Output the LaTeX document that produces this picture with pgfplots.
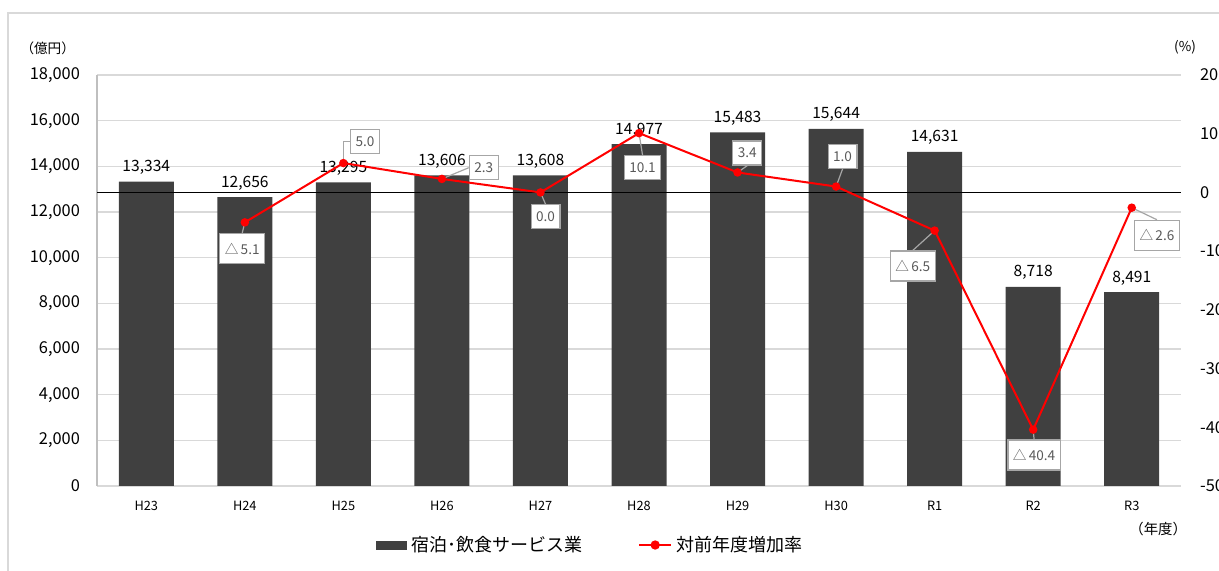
\documentclass[border=0pt]{standalone}
\usepackage{pgfplots}
\pgfplotsset{compat=1.18}
\usepackage{fontspec}
\setmainfont{Noto Sans CJK JP}
\setsansfont{Noto Sans CJK JP}

\definecolor{barc}{HTML}{404040}
\definecolor{gridc}{HTML}{D9D9D9}
\definecolor{spinec}{HTML}{BFBFBF}
\definecolor{boxc}{HTML}{A6A6A6}
\definecolor{boxtext}{HTML}{595959}
\definecolor{linec}{HTML}{FF0000}

\tikzset{
  cbox/.style={draw=boxc, fill=white, text=boxtext, line width=0.6pt,
    font=\fontsize{6.8}{8}\selectfont, inner xsep=2.5pt, minimum height=12pt},
  cboxn/.style={cbox, minimum height=15pt},
  lead/.style={draw=boxc, line width=0.6pt},
}

\begin{document}
\begin{tikzpicture}
\useasboundingbox (0,0) rectangle (609.5pt,285.5pt);
\clip (0,0) rectangle (609.5pt,285.5pt);
\draw[gridc, line width=0.6pt] (4pt,-5pt) rectangle (620pt,279pt);

% bars, left axis
\begin{axis}[
    at={(48.5pt,42.5pt)}, anchor=south west,
    width=542pt, height=205.5pt, scale only axis,
    xmin=-0.5, xmax=10.5,
    ymin=0, ymax=18000,
    ybar, bar width=27.5pt,
    xtick={0,1,2,3,4,5,6,7,8,9,10},
    xticklabels={H23,H24,H25,H26,H27,H28,H29,H30,R1,R2,R3},
    ytick={0,2000,4000,6000,8000,10000,12000,14000,16000,18000},
    scaled y ticks=false,
    /pgf/number format/.cd, 1000 sep={,}, assume math mode=true,
    /pgfplots/.cd,
    ymajorgrids=true,
    grid style={draw=gridc, line width=0.6pt},
    axis x line*=bottom, axis y line*=left,
    x axis line style={draw=gridc, line width=0.8pt, -},
    y axis line style={draw=spinec, line width=0.6pt, -},
    major tick length=0pt,
    yticklabel style={font=\fontsize{8.2}{10}\selectfont, xshift=-5pt},
    xticklabel style={font=\fontsize{6.4}{8}\selectfont, yshift=-4pt},
    nodes near coords,
    every node near coord/.append style={font=\fontsize{7.8}{9}\selectfont, anchor=base, yshift=5pt, black},
]
\addplot[fill=barc, draw=none] coordinates {
    (0,13334) (1,12656) (2,13295) (3,13606) (4,13608) (5,14977)
    (6,15483) (7,15644) (8,14631) (9,8718) (10,8491)
};
\end{axis}

% growth rate, right axis
\begin{axis}[
    at={(48.5pt,42.5pt)}, anchor=south west,
    width=542pt, height=205.5pt, scale only axis,
    xmin=-0.5, xmax=10.5,
    ymin=-50, ymax=20,
    ytick={-50,-40,-30,-20,-10,0,10,20},
    axis x line=none,
    axis y line*=right,
    y axis line style={draw=none},
    major tick length=0pt,
    /pgf/number format/assume math mode=true,
    yticklabel style={font=\fontsize{8.2}{10}\selectfont, anchor=west, xshift=6pt},
    legend style={draw=none, at={(0.456,-0.1436)}, anchor=center,
        font=\fontsize{9}{11}\selectfont, legend columns=2,
        /tikz/every even column/.append style={column sep=26pt}},
    legend cell align=left,
]
\draw[black, line width=0.8pt] (axis cs:-0.5,0) -- (axis cs:10.5,0);
\addlegendimage{legend image code/.code={\fill[barc] (0pt,-2pt) rectangle (15pt,2pt);}}
\addlegendentry{宿泊･飲食サービス業}
\addplot[color=linec, line width=1pt, mark=*, mark size=1.6pt,
    mark options={fill=linec, draw=linec},
    legend image code/.code={\draw[linec, line width=1pt] (0pt,0pt) -- (16pt,0pt);
        \fill[linec] (8pt,0pt) circle (1.8pt);}]
coordinates {
    (1,-5.1) (2,5.0) (3,2.3) (4,0.0) (5,10.1) (6,3.4)
    (7,1.0) (8,-6.5) (9,-40.4) (10,-2.6)
};
\addlegendentry{対前年度増加率}

\node[cboxn] (c1) at (axis cs:0.974,-9.56) {△\,5.1};
\draw[lead] (axis cs:1,-5.1) -- (c1.north);
\node[cbox] (c2) at (axis cs:2.220,8.64) {5.0};
\draw[lead] (axis cs:2,5.0) -- (axis cs:2,8.64) -- (c2.west);
\node[cbox] (c3) at (axis cs:3.425,4.21) {2.3};
\draw[lead] (axis cs:3,2.3) -- (c3.west);
\node[cbox] (c4) at (axis cs:4.052,-4.16) {0.0};
\draw[lead] (axis cs:4,0.0) -- (c4.north);
\node[cbox] (c5) at (axis cs:5.036,4.21) {10.1};
\draw[lead] (axis cs:5,10.1) -- (c5.north);
\node[cbox] (c6) at (axis cs:6.098,6.71) {3.4};
\draw[lead] (axis cs:6,3.4) -- (c6.south);
\node[cbox] (c7) at (axis cs:7.066,6.15) {1.0};
\draw[lead] (axis cs:7,1.0) -- (c7.south);
\node[cboxn] (c8) at (axis cs:7.778,-12.54) {△\,6.5};
\draw[lead] (axis cs:8,-6.5) -- (c8.north);
\node[cboxn] (c9) at (axis cs:9.009,-44.73) {△\,40.4};
\draw[lead] (axis cs:9,-40.4) -- (c9.north);
\node[cboxn] (c10) at (axis cs:10.256,-7.31) {△\,2.6};
\draw[lead] (axis cs:10,-2.6) -- (c10.north);
\end{axis}

\node[anchor=east, font=\fontsize{6.8}{8}\selectfont] at (41pt,261.5pt) {（億円）};
\node[font=\fontsize{6.8}{8}\selectfont] at (592.5pt,262pt) {(\%)};
\node[anchor=east, font=\fontsize{7.2}{9}\selectfont] at (597pt,21pt) {（年度）};
\end{tikzpicture}
\end{document}
